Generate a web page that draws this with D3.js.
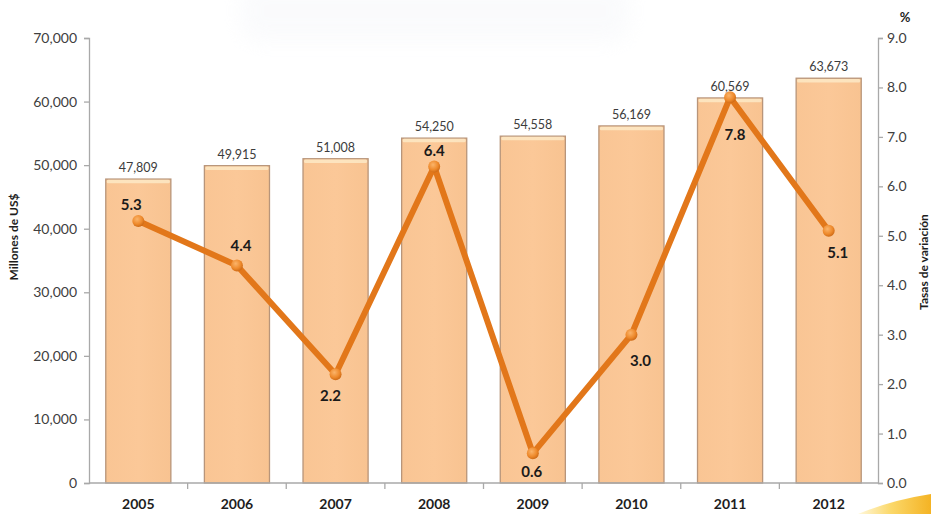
<!DOCTYPE html>
<html>
<head>
<meta charset="utf-8">
<script src="https://cdn.jsdelivr.net/npm/d3@7"></script>
<style>
  html, body { margin: 0; padding: 0; background: #ffffff; }
  svg { display: block; font-family: Lato, "Open Sans", sans-serif; }
</style>
</head>
<body>
<svg id="chart" width="931" height="514"></svg>
<script>
// Valor en millones de US$ y tasa de variación anual (%)
const years = ["2005", "2006", "2007", "2008", "2009", "2010", "2011", "2012"];
const valores = [47809, 49915, 51008, 54250, 54558, 56169, 60569, 63673];
const tasas = [5.3, 4.4, 2.2, 6.4, 0.6, 3.0, 7.8, 5.1];
const leftTicks = [0, 10000, 20000, 30000, 40000, 50000, 60000, 70000];
const rightTicks = [0, 1, 2, 3, 4, 5, 6, 7, 8, 9];

const svg = d3.select("#chart");
const plot = { left: 89, right: 878, top: 38, bottom: 483 };

const defs = svg.append("defs");

// soft haze at the top of the slide
defs.append("filter").attr("id", "haze")
  .attr("x", "-20%").attr("y", "-50%").attr("width", "140%").attr("height", "200%")
  .append("feGaussianBlur").attr("stdDeviation", 10);
svg.append("rect")
  .attr("x", 240).attr("y", -20).attr("width", 390).attr("height", 62).attr("rx", 20)
  .attr("fill", "#f1f3f8").attr("opacity", 0.35).attr("filter", "url(#haze)");

// yellow swoosh in the bottom-right corner
const sw = defs.append("linearGradient").attr("id", "swoosh")
  .attr("x1", "0").attr("y1", "0").attr("x2", "1").attr("y2", "0");
sw.append("stop").attr("offset", "0").attr("stop-color", "#fff8dc");
sw.append("stop").attr("offset", "0.45").attr("stop-color", "#fbd86a");
sw.append("stop").attr("offset", "1").attr("stop-color", "#f4b324");
svg.append("path")
  .attr("d", "M858,514 Q892,500 931,494 L931,514 Z")
  .attr("fill", "url(#swoosh)");

// scales
const x = d3.scaleBand().domain(years)
  .range([plot.left, plot.right]).paddingInner(0.34).paddingOuter(0.17);
const yL = d3.scaleLinear().domain([0, 70000]).range([plot.bottom, plot.top]);
const yR = d3.scaleLinear().domain([0, 9]).range([plot.bottom, plot.top]);

const axisColor = "#a9a9a9";
const tickText = "#404040";

// left axis
const gL = svg.append("g").attr("transform", `translate(${plot.left},0)`)
  .call(d3.axisLeft(yL).tickValues(leftTicks).tickSize(5).tickPadding(7)
    .tickFormat(d3.format(",")));
gL.select(".domain").attr("stroke", axisColor).attr("stroke-width", 1.3);
gL.selectAll(".tick line").attr("stroke", axisColor).attr("stroke-width", 1.3);
gL.selectAll(".tick text").attr("fill", tickText).attr("font-size", 14)
  .attr("font-family", "Lato, sans-serif");

// right axis
const gR = svg.append("g").attr("transform", `translate(${plot.right},0)`)
  .call(d3.axisRight(yR).tickValues(rightTicks).tickSize(5).tickPadding(4)
    .tickFormat(d3.format(".1f")));
gR.select(".domain").attr("stroke", axisColor).attr("stroke-width", 1.3);
gR.selectAll(".tick line").attr("stroke", axisColor).attr("stroke-width", 1.3);
gR.selectAll(".tick text").attr("fill", tickText).attr("font-size", 14)
  .attr("font-family", "Lato, sans-serif");

// bars
const barGrad = defs.append("linearGradient").attr("id", "barFill")
  .attr("x1", "0").attr("y1", "0").attr("x2", "1").attr("y2", "0");
barGrad.append("stop").attr("offset", "0").attr("stop-color", "#f9c594");
barGrad.append("stop").attr("offset", "0.5").attr("stop-color", "#fbc898");
barGrad.append("stop").attr("offset", "1").attr("stop-color", "#f8c391");

const bars = svg.append("g").selectAll("g").data(years).enter().append("g");
bars.append("rect")
  .attr("x", d => x(d))
  .attr("y", (d, i) => yL(valores[i]))
  .attr("width", x.bandwidth())
  .attr("height", (d, i) => plot.bottom - yL(valores[i]))
  .attr("fill", "url(#barFill)")
  .attr("stroke", "#b8957a").attr("stroke-width", 1.3);
// light cap on top of each bar
bars.append("rect")
  .attr("x", d => x(d) + 1)
  .attr("y", (d, i) => yL(valores[i]) + 0.7)
  .attr("width", x.bandwidth() - 2)
  .attr("height", 3.5).attr("rx", 1.5)
  .attr("fill", "#fde9c6").attr("opacity", 0.85);

// x axis line and category separators
svg.append("line")
  .attr("x1", plot.left).attr("x2", plot.right)
  .attr("y1", plot.bottom).attr("y2", plot.bottom)
  .attr("stroke", axisColor).attr("stroke-width", 1.3);
const step = x.step();
svg.append("g").selectAll("line").data(years.slice(1)).enter().append("line")
  .attr("x1", d => x(d) - x.paddingInner() * step / 2)
  .attr("x2", d => x(d) - x.paddingInner() * step / 2)
  .attr("y1", plot.bottom).attr("y2", plot.bottom + 6)
  .attr("stroke", axisColor).attr("stroke-width", 1.3);

// year labels
svg.append("g").selectAll("text").data(years).enter().append("text")
  .attr("x", d => x(d) + x.bandwidth() / 2)
  .attr("y", 509)
  .attr("text-anchor", "middle")
  .attr("font-size", 14).attr("font-weight", "bold").attr("fill", "#1e1e1e")
  .text(d => d);

// bar value labels
svg.append("g").selectAll("text").data(years).enter().append("text")
  .attr("x", d => x(d) + x.bandwidth() / 2)
  .attr("y", (d, i) => yL(valores[i]) - 7)
  .attr("text-anchor", "middle")
  .attr("font-size", 12.5).attr("fill", "#3c3c3c")
  .text((d, i) => d3.format(",")(valores[i]));

// growth-rate line
const cx = d => x(d) + x.bandwidth() / 2;
const line = d3.line().x((d, i) => cx(years[i])).y(d => yR(d));
svg.append("path").datum(tasas)
  .attr("d", line)
  .attr("fill", "none")
  .attr("stroke", "#e2771a").attr("stroke-width", 6)
  .attr("stroke-linejoin", "round").attr("stroke-linecap", "round");

const dotGrad = defs.append("radialGradient").attr("id", "dotFill")
  .attr("cx", "0.4").attr("cy", "0.35").attr("r", "0.7");
dotGrad.append("stop").attr("offset", "0").attr("stop-color", "#fbb46a");
dotGrad.append("stop").attr("offset", "0.6").attr("stop-color", "#ee8a2c");
dotGrad.append("stop").attr("offset", "1").attr("stop-color", "#c96512");
svg.append("g").selectAll("circle").data(tasas).enter().append("circle")
  .attr("cx", (d, i) => cx(years[i]))
  .attr("cy", d => yR(d))
  .attr("r", 6)
  .attr("fill", "url(#dotFill)");

// rate labels, nudged off the line
const nudge = [[-7, -16], [4, -20], [-5, 21], [0, -16], [-1, 18], [9, 26], [5, 37], [9, 22]];
svg.append("g").selectAll("text").data(tasas).enter().append("text")
  .attr("x", (d, i) => cx(years[i]) + nudge[i][0])
  .attr("y", (d, i) => yR(d) + nudge[i][1])
  .attr("dy", "0.36em")
  .attr("text-anchor", "middle")
  .attr("font-size", 15).attr("font-weight", "bold").attr("fill", "#1a1a1a")
  .text(d => d3.format(".1f")(d));

// axis titles
svg.append("text")
  .attr("transform", "translate(18,237) rotate(-90)")
  .attr("text-anchor", "middle")
  .attr("font-size", 12).attr("font-weight", "bold").attr("fill", "#1e1e1e")
  .text("Millones de US$");
svg.append("text")
  .attr("transform", "translate(928,262) rotate(-90)")
  .attr("text-anchor", "middle")
  .attr("font-size", 12).attr("font-weight", "bold").attr("fill", "#1e1e1e")
  .text("Tasas de variación");
svg.append("text")
  .attr("x", 905).attr("y", 22)
  .attr("text-anchor", "middle")
  .attr("font-size", 13).attr("font-weight", "bold").attr("fill", "#1e1e1e")
  .text("%");
</script>
</body>
</html>
